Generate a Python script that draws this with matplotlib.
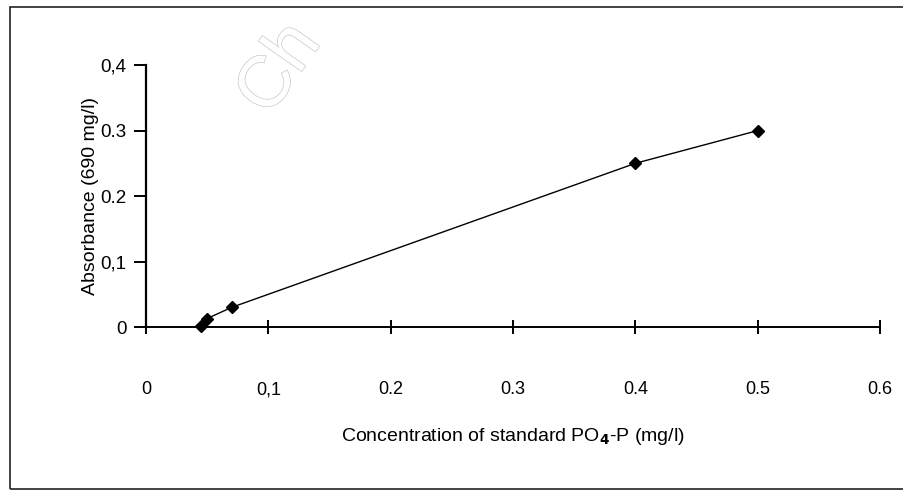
import matplotlib
matplotlib.use("Agg")
import matplotlib.pyplot as plt
from matplotlib.patches import Rectangle
import matplotlib.patheffects as pe

plt.rcParams['font.family'] = ['Liberation Sans', 'DejaVu Sans']

# calibration points
conc = [0.045, 0.05, 0.07, 0.4, 0.5]
absorb = [0.002, 0.013, 0.03, 0.25, 0.30]

xticks = [0, 0.1, 0.2, 0.3, 0.4, 0.5, 0.6]
xtick_labels = ["0", "0,1", "0.2", "0.3", "0.4", "0.5", "0.6"]
yticks = [0, 0.1, 0.2, 0.3, 0.4]
ytick_labels = ["0", "0,1", "0.2", "0.3", "0,4"]

fig = plt.figure(figsize=(9.04, 4.97), dpi=100)
ax = fig.add_axes([0.1615, 0.342, 0.812, 0.527])

ax.plot(conc, absorb, color="black", lw=1.0, marker="D", ms=6.5,
        mfc="black", mec="black", clip_on=False, zorder=3)

ax.set_xlim(0, 0.6)
ax.set_ylim(0, 0.4)
ax.spines['top'].set_visible(False)
ax.spines['right'].set_visible(False)
ax.spines['left'].set_linewidth(1.6)
ax.spines['bottom'].set_linewidth(1.4)

ax.set_xticks(xticks)
ax.set_xticklabels(xtick_labels, fontsize=13)
ax.set_yticks(yticks)
ax.set_yticklabels(ytick_labels, fontsize=13.5)
ax.tick_params(axis='x', direction='inout', length=10, width=1.4, pad=34)
ax.tick_params(axis='y', direction='out', length=9, width=1.4, pad=5)

ax.set_ylabel("Absorbance (690 mg/l)", fontsize=14, labelpad=1)
ax.set_xlabel("Concentration of standard PO$_{\\mathbf{4}}$-P (mg/l)",
              fontsize=14, labelpad=20)

# scanned page frame
fig.patches.append(Rectangle((10 / 904, 8 / 497), 900 / 904, 482 / 497,
                             transform=fig.transFigure, fill=False,
                             edgecolor="#222222", lw=1.2))

# faint watermark
fig.text(0.31, 0.86, "Ch", fontsize=52, rotation=55, color="white",
         ha="center", va="center", zorder=0,
         path_effects=[pe.withStroke(linewidth=1.0, foreground="#c8c8c8")])

fig.savefig("out.png", dpi=100)
